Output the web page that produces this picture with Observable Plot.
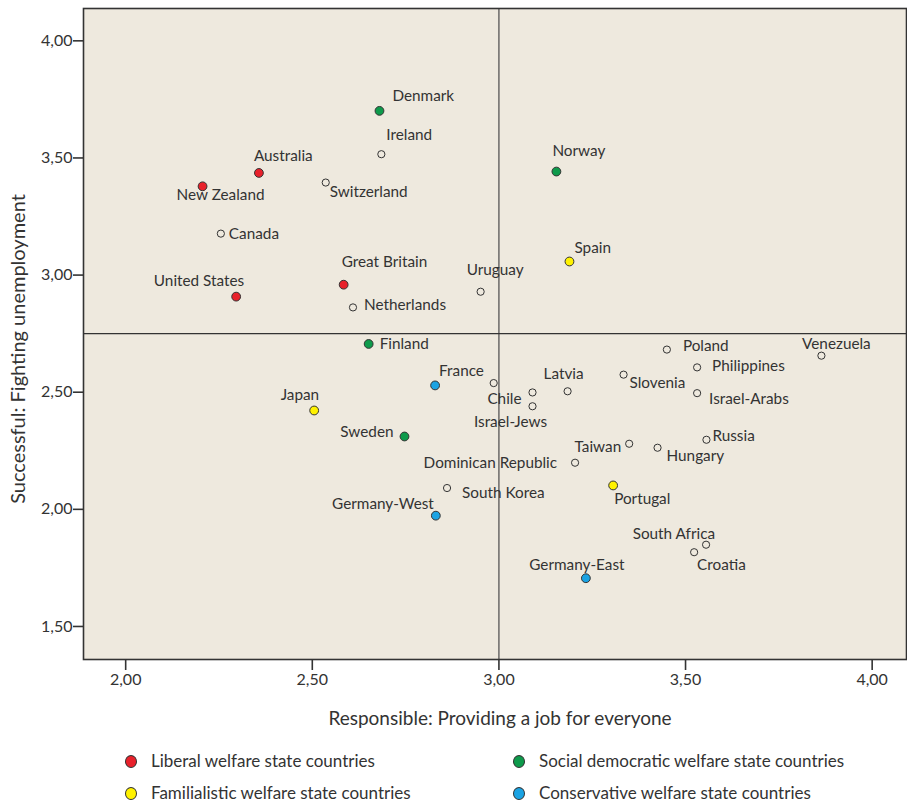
<!DOCTYPE html>
<html><head><meta charset="utf-8">
<script src="https://cdn.jsdelivr.net/npm/d3@7"></script>
<script src="https://cdn.jsdelivr.net/npm/@observablehq/plot@0.6"></script>
<style>
body{margin:0;background:#fff;}
#wrap{position:relative;width:907px;height:802px;overflow:hidden;}
.leg{position:absolute;font-family:Lato,"Open Sans",sans-serif;font-size:17px;color:#333;line-height:20px;white-space:nowrap;}
.sw{position:absolute;width:10px;height:11px;border-radius:50%;border:1px solid #333;}
</style></head>
<body><div id="wrap"></div>
<script>
// ---- data ----
const countries = ["New Zealand","Australia","Canada","United States","Japan","Finland","France","","Chile","Israel-Jews","Latvia","Sweden","Dominican Republic","South Korea","Germany-West","Germany-East","Taiwan","Hungary","Russia","Portugal","Poland","Philippines","Slovenia","Israel-Arabs","Venezuela","South Africa","Croatia","Denmark","Ireland","Switzerland","Norway","Spain","Great Britain","Netherlands","Uruguay"];
const responsible = [2.206,2.357,2.255,2.296,2.505,2.651,2.829,2.986,3.090,3.090,3.184,2.747,3.204,2.861,2.831,3.233,3.349,3.425,3.556,3.306,3.450,3.531,3.334,3.531,3.864,3.555,3.523,2.680,2.685,2.536,3.154,3.189,2.584,2.609,2.951];
const successful = [3.379,3.436,3.177,2.908,2.422,2.706,2.529,2.539,2.499,2.440,2.504,2.311,2.199,2.091,1.973,1.706,2.280,2.263,2.297,2.102,2.682,2.606,2.575,2.496,2.656,1.849,1.817,3.701,3.516,3.395,3.442,3.058,2.959,2.862,2.929];
const regime = ["Liberal","Liberal","Other","Liberal","Familialistic","Social democratic","Conservative","Other","Other","Other","Other","Social democratic","Other","Other","Conservative","Conservative","Other","Other","Other","Familialistic","Other","Other","Other","Other","Other","Other","Other","Social democratic","Other","Other","Social democratic","Familialistic","Liberal","Other","Other"];
const regimeNames = ["Liberal","Familialistic","Social democratic","Conservative"];
const regimeLegend = ["Liberal welfare state countries","Familialistic welfare state countries","Social democratic welfare state countries","Conservative welfare state countries"];
const regimeColors = ["#e8212b","#fff200","#0e9a4b","#1ba3e3"];
const xTicks = [2, 2.5, 3, 3.5, 4];
const yTicks = [1.5, 2, 2.5, 3, 3.5, 4];
const refX = [3.0];
const refY = [2.75];
const xTitle = "Responsible: Providing a job for everyone";
const yTitle = "Successful: Fighting unemployment";

// ---- label placement (layout, px offsets from the point) ----
const labelPlacement = {
  "New Zealand":[18,9,"middle"], "Australia":[-5,-17,"start"], "Canada":[8,0,"start"],
  "United States":[8,-16,"end"], "Japan":[5,-15,"end"], "Finland":[11,0,"start"],
  "France":[4,-14,"start"], "Chile":[-11,7,"end"], "Israel-Jews":[-22,16,"middle"],
  "Latvia":[-4,-17,"middle"], "Sweden":[-11,-4,"end"], "Dominican Republic":[-18,0,"end"],
  "South Korea":[15,5,"start"], "Germany-West":[-2,-12,"end"], "Germany-East":[-9,-13,"middle"],
  "Taiwan":[-8,3,"end"], "Hungary":[9,8,"start"], "Russia":[6,-4,"start"],
  "Portugal":[1,14,"start"], "Poland":[16,-3,"start"], "Philippines":[15,-1,"start"],
  "Slovenia":[6,8,"start"], "Israel-Arabs":[12,6,"start"], "Venezuela":[15,-12,"middle"],
  "South Africa":[9,-11,"end"], "Croatia":[3,13,"start"], "Denmark":[13,-15,"start"],
  "Ireland":[5,-19,"start"], "Switzerland":[4,10,"start"], "Norway":[-4,-20,"start"],
  "Spain":[5,-13,"start"], "Great Britain":[-2,-23,"start"], "Netherlands":[11,-2,"start"],
  "Uruguay":[-14,-22,"start"]
};

const data = countries.map((c, i) => ({country: c, x: responsible[i], y: successful[i], regime: regime[i]}));
const bg = "#eee9de";
const fmt = d => d.toFixed(2).replace(".", ",");
const font = "Lato, 'Open Sans', sans-serif";

const labelMarks = data.filter(d => d.country && labelPlacement[d.country]).map(d => {
  const [dx, dy, anchor] = labelPlacement[d.country];
  return Plot.text([d], {x: "x", y: "y", text: "country", dx, dy, textAnchor: anchor,
    lineAnchor: "middle", fill: "#333", fontSize: 15.3, fontFamily: font});
});

const chart = Plot.plot({
  width: 907, height: 742,
  marginTop: 8, marginBottom: 83, marginLeft: 83, marginRight: 1,
  style: {fontFamily: font, background: "#fff", color: "#333"},
  x: {domain: [1.887, 4.092], ticks: xTicks, tickFormat: fmt},
  y: {domain: [1.359, 4.138], ticks: yTicks, tickFormat: fmt},
  color: {domain: regimeNames, range: regimeColors},
  marks: [
    Plot.frame({fill: bg, stroke: null}),
    Plot.ruleX(refX, {stroke: "#555", strokeWidth: 1.3}),
    Plot.ruleY(refY, {stroke: "#333", strokeWidth: 1.3}),
    Plot.frame({stroke: "#333", strokeWidth: 1.6}),
    Plot.dot(data.filter(d => d.regime === "Other"), {x: "x", y: "y", r: 3.6, fill: "none", stroke: "#333", strokeWidth: 1}),
    Plot.dot(data.filter(d => d.regime !== "Other"), {x: "x", y: "y", r: 4.4, fill: "regime", stroke: "#333", strokeWidth: 1}),
    ...labelMarks,
    Plot.axisX({ticks: xTicks, tickFormat: fmt, tickSize: 11, tickPadding: 3, fontSize: 16, label: null, stroke: "#333", strokeWidth: 1.6}),
    Plot.axisY({ticks: yTicks, tickFormat: fmt, tickSize: 10, tickPadding: 1, fontSize: 16, label: null, stroke: "#333", strokeWidth: 1.6}),
    Plot.text([xTitle], {frameAnchor: "bottom", textAnchor: "middle", dx: 5, dy: 59, lineAnchor: "middle", fontSize: 19, fill: "#333", fontFamily: font}),
    Plot.text([yTitle], {frameAnchor: "left", textAnchor: "middle", rotate: -90, dx: -65, dy: 15, lineAnchor: "middle", fontSize: 20, fill: "#333", fontFamily: font})
  ]
});
chart.style.overflow = "visible";
const wrap = document.getElementById("wrap");
wrap.appendChild(chart);

// ---- legend (HTML, below the SVG) ----
const legPos = [[131, 761], [131, 793], [519, 761], [519, 793]];
regimeNames.forEach((g, i) => {
  const [cx, cy] = legPos[i];
  const sw = document.createElement("div");
  sw.className = "sw";
  sw.style.left = (cx - 6) + "px"; sw.style.top = (cy - 6.5) + "px";
  sw.style.background = regimeColors[i];
  wrap.appendChild(sw);
  const t = document.createElement("div");
  t.className = "leg";
  t.textContent = regimeLegend[i];
  t.style.left = (cx + 20) + "px"; t.style.top = (cy - 10) + "px";
  wrap.appendChild(t);
});
</script>
</body></html>
